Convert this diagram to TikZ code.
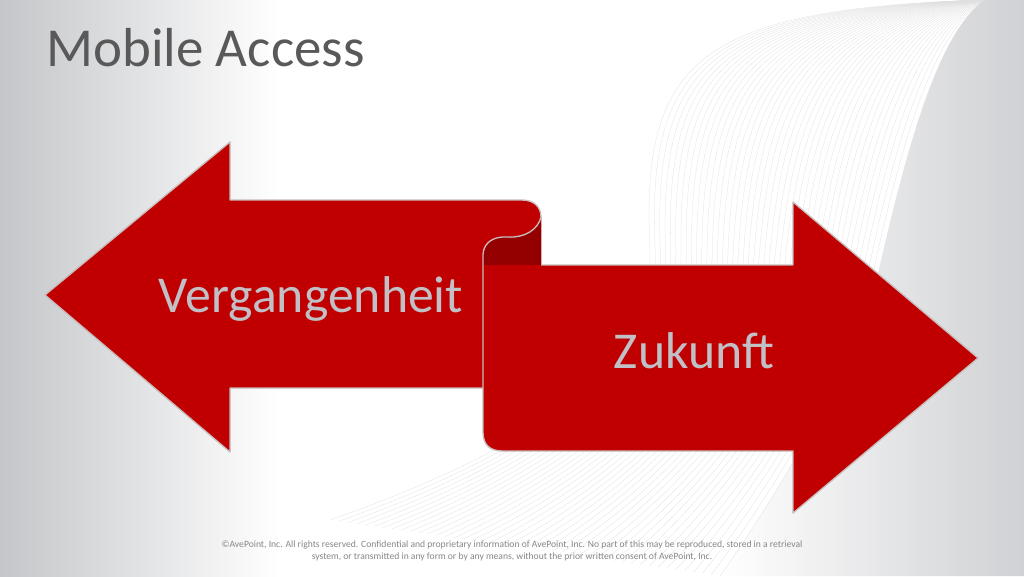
\documentclass[tikz,border=0pt]{standalone}
\usepackage{fontspec}
\setmainfont{Carlito}
\usepackage{xcolor}

\definecolor{ribbonred}{RGB}{192,0,0}
\definecolor{ribbondark}{RGB}{148,0,0}
\definecolor{ribbonedge}{RGB}{200,188,188}
\definecolor{labelgray}{RGB}{192,192,198}
\definecolor{titlegray}{RGB}{89,89,89}
\definecolor{footgray}{RGB}{135,135,135}
\definecolor{sidegray}{RGB}{196,198,201}
\definecolor{curlgray}{RGB}{208,209,212}

\tikzset{
  edge/.style={draw=ribbonedge, line width=1pt, line join=round},
  ribbon/.style={fill=ribbonred, edge},
  wordlabel/.style={text=labelgray, font=\fontsize{38.8}{40}\selectfont, anchor=base, inner sep=0pt},
  footnote/.style={text=footgray, font=\fontsize{7.2}{8}\selectfont, anchor=base, inner sep=0pt},
  swoosh/.style={draw=gray!24, line width=0.2pt}
}

\begin{document}
\begin{tikzpicture}[x=0.75pt, y=-0.75pt]

% Page and background
\useasboundingbox (0,0) rectangle (1024,576);
\clip (0,0) rectangle (1024,576);
\fill[white] (0,0) rectangle (1024,576);
\shade[left color=sidegray, right color=white] (0,0) rectangle (280,576); % left fade

% Grey page curl on the right
\shade[left color=white, right color=curlgray]
  (984,0) .. controls (945,30) and (915,110) .. (878,275)
  .. controls (850,380) and (760,520) .. (720,576) -- (1024,576) -- (1024,0) -- cycle;

% Bundle of thin wave lines
\foreach \i in {0,...,44} {
  \pgfmathsetmacro{\t}{\i/44}
  \draw[swoosh] ({978+6*\t},0)
    .. controls ({700+245*\t},{10+20*\t}) and ({640+275*\t},{60+50*\t}) .. ({650+228*\t},{250+25*\t})
    .. controls ({655+195*\t},380) and ({500+260*\t},{460+60*\t}) .. ({330+390*\t},{520+56*\t});
}

% Left arrow (Vergangenheit)
\draw[ribbon] (45,295) -- (230,142) -- (230,200) -- (522,200)
  .. controls (534,200) and (541,207) .. (541,217) -- (541,388)
  -- (230,388) -- (230,452) -- cycle;

% Back side of the fold
\fill[ribbondark] (483,265) -- (483,254) .. controls (484,242) and (494,236) .. (508,237)
  .. controls (524,238) and (538,230) .. (541,217) -- (541,265) -- cycle;
\draw[edge] (483,254) .. controls (484,242) and (494,236) .. (508,237)
  .. controls (524,238) and (538,230) .. (541,217);

% Right arrow (Zukunft)
\fill[ribbonred] (483,265) -- (483,432) .. controls (483,445) and (490,451) .. (503,451)
  -- (793,451) -- (793,513) -- (978,358) -- (793,202) -- (793,265) -- cycle;
\draw[edge] (541,265) -- (793,265) -- (793,202) -- (978,358) -- (793,513) -- (793,451)
  -- (503,451) .. controls (490,451) and (483,445) .. (483,432) -- (483,254);

% Texts
\node[text=titlegray, font=\fontsize{41.2}{44}\selectfont, anchor=base west, inner sep=0pt] (title) at (46,66) {Mobile Access};
\node[wordlabel] (past) at (311,312) {Vergangenheit};
\node[wordlabel] (future) at (694,368) {Zukunft};
\node[footnote] (footone) at (512,547) {\textcopyright AvePoint, Inc. All rights reserved. Confidential and proprietary information of AvePoint, Inc. No part of this may be reproduced, stored in a retrieval};
\node[footnote] (foottwo) at (512,559) {system, or transmitted in any form or by any means, without the prior written consent of AvePoint, Inc.};

\end{tikzpicture}
\end{document}
